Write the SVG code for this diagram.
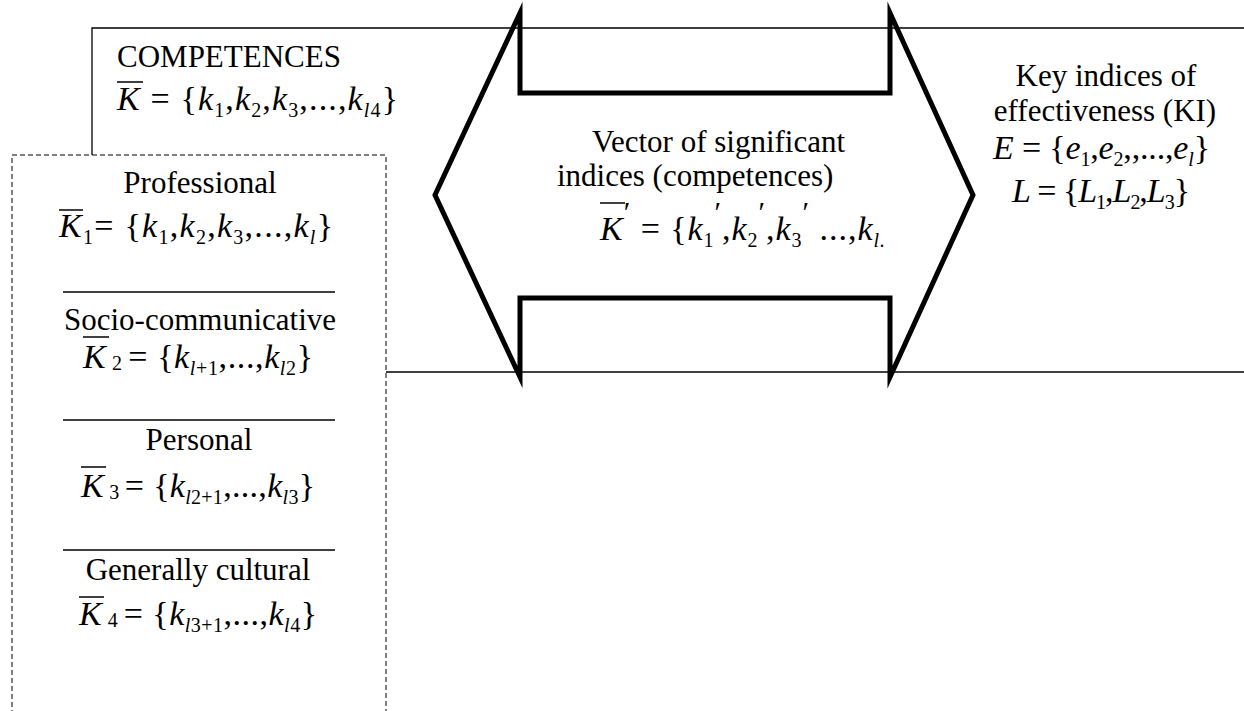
<svg xmlns="http://www.w3.org/2000/svg" width="1244" height="711" viewBox="0 0 1244 711">
<style>
.lbl{font-family:"Liberation Serif","Times New Roman",serif;font-size:31px;fill:#000}
.m{font-family:"Liberation Serif","Times New Roman",serif;font-size:34px;fill:#000}
.i{font-style:italic}
.s{font-size:20px}
.p{font-size:30px}
.frame{stroke:#000;stroke-width:1.3;fill:none}
.sep{stroke:#000;stroke-width:1.3}
.ov{stroke:#000;stroke-width:1.5}
.dash{stroke:#000;stroke-width:1;stroke-dasharray:5 3;fill:none}
.arrow{stroke:#000;stroke-width:5;fill:none;stroke-linejoin:miter;stroke-miterlimit:10}
.c{text-anchor:middle}
</style>
<rect width="1244" height="711" fill="#fff"/>
<g id="frame">
<path class="frame" d="M92,155 V28 H1244"/>
<path class="frame" d="M386,372 H1244"/>
</g>
<g id="connectors">
<path class="arrow" d="M520,13 L520,93 L890,93 L890,13 L973,195 L890,377 L890,298 L520,298 L520,377 L435,195 Z"/>
</g>
<g id="competences">
<text class="lbl" x="117" y="67">COMPETENCES</text>
<line class="ov" x1="117" y1="82" x2="143" y2="82"/>
<text class="m" x="117" y="110" textLength="281" lengthAdjust="spacing"><tspan class="i">K</tspan> = {<tspan class="i">k</tspan><tspan class="s" dy="7">1</tspan><tspan dy="-7">,</tspan><tspan class="i">k</tspan><tspan class="s" dy="7">2</tspan><tspan dy="-7">,</tspan><tspan class="i">k</tspan><tspan class="s" dy="7">3</tspan><tspan dy="-7">,...,</tspan><tspan class="i">k</tspan><tspan class="s i" dy="7">l</tspan><tspan class="s">4</tspan><tspan dy="-7">}</tspan></text>
</g>
<g id="competence-groups">
<path class="dash" d="M12,715 V155 H386 V715"/>
<text class="lbl c" x="200" y="193">Professional</text>
<line class="ov" x1="59" y1="210" x2="83" y2="210"/>
<text class="m" x="59" y="237" textLength="274" lengthAdjust="spacing"><tspan class="i">K</tspan><tspan class="s" dy="7">1</tspan><tspan dy="-7">= {</tspan><tspan class="i">k</tspan><tspan class="s" dy="7">1</tspan><tspan dy="-7">,</tspan><tspan class="i">k</tspan><tspan class="s" dy="7">2</tspan><tspan dy="-7">,</tspan><tspan class="i">k</tspan><tspan class="s" dy="7">3</tspan><tspan dy="-7">,...,</tspan><tspan class="i">k</tspan><tspan class="s i" dy="7">l</tspan><tspan dy="-7">}</tspan></text>
<line class="sep" x1="63" y1="292" x2="335" y2="292"/>
<text class="lbl c" x="200" y="330">Socio-communicative</text>
<line class="ov" x1="83" y1="337" x2="109" y2="337"/>
<text class="m" x="83" y="368" textLength="230" lengthAdjust="spacing"><tspan class="i">K</tspan><tspan class="s" dy="2"> 2 </tspan><tspan dy="-2">= {</tspan><tspan class="i">k</tspan><tspan class="s" dy="7"><tspan class="i">l</tspan>+1</tspan><tspan dy="-7">,...,</tspan><tspan class="i">k</tspan><tspan class="s" dy="7"><tspan class="i">l</tspan>2</tspan><tspan dy="-7">}</tspan></text>
<line class="sep" x1="63" y1="420" x2="335" y2="420"/>
<text class="lbl c" x="199" y="450">Personal</text>
<line class="ov" x1="81" y1="467" x2="106" y2="467"/>
<text class="m" x="81" y="497" textLength="234" lengthAdjust="spacing"><tspan class="i">K</tspan><tspan class="s" dy="2"> 3 </tspan><tspan dy="-2">= {</tspan><tspan class="i">k</tspan><tspan class="s" dy="7"><tspan class="i">l</tspan>2+1</tspan><tspan dy="-7">,...,</tspan><tspan class="i">k</tspan><tspan class="s" dy="7"><tspan class="i">l</tspan>3</tspan><tspan dy="-7">}</tspan></text>
<line class="sep" x1="63" y1="550" x2="335" y2="550"/>
<text class="lbl c" x="198" y="580">Generally cultural</text>
<line class="ov" x1="79" y1="597" x2="104" y2="597"/>
<text class="m" x="79" y="625" textLength="238" lengthAdjust="spacing"><tspan class="i">K</tspan><tspan class="s" dy="2"> 4 </tspan><tspan dy="-2">= {</tspan><tspan class="i">k</tspan><tspan class="s" dy="7"><tspan class="i">l</tspan>3+1</tspan><tspan dy="-7">,...,</tspan><tspan class="i">k</tspan><tspan class="s" dy="7"><tspan class="i">l</tspan>4</tspan><tspan dy="-7">}</tspan></text>
</g>
<g id="vector">
<text class="lbl" x="592" y="152">Vector of significant</text>
<text class="lbl" x="557" y="186">indices (competences)</text>
<line class="ov" x1="600" y1="203" x2="625" y2="203"/>
<text class="m" x="600" y="240" textLength="285" lengthAdjust="spacing"><tspan class="i">K</tspan><tspan class="p" dy="-18">′</tspan><tspan dy="18"> = {</tspan><tspan class="i">k</tspan><tspan class="s" dy="7">1</tspan><tspan class="p" dy="-25">′</tspan><tspan dy="18">,</tspan><tspan class="i">k</tspan><tspan class="s" dy="7">2</tspan><tspan class="p" dy="-25">′</tspan><tspan dy="18">,</tspan><tspan class="i">k</tspan><tspan class="s" dy="7">3</tspan><tspan class="p" dy="-25">′</tspan><tspan dy="18"> ...,</tspan><tspan class="i">k</tspan><tspan class="s i" dy="7">l.</tspan></text>
</g>
<g id="key-indices">
<text class="lbl c" x="1106" y="86">Key indices of</text>
<text class="lbl c" x="1105" y="121">effectiveness (KI)</text>
<text class="m" x="993" y="159" textLength="217" lengthAdjust="spacing"><tspan class="i">E</tspan> = {<tspan class="i">e</tspan><tspan class="s" dy="7">1</tspan><tspan dy="-7">,</tspan><tspan class="i">e</tspan><tspan class="s" dy="7">2</tspan><tspan dy="-7">,,...,</tspan><tspan class="i">e</tspan><tspan class="s i" dy="7">l</tspan><tspan dy="-7">}</tspan></text>
<text class="m" x="1012" y="202" textLength="178" lengthAdjust="spacing"><tspan class="i">L</tspan> = {<tspan class="i">L</tspan><tspan class="s" dy="7">1</tspan><tspan dy="-7">,</tspan><tspan class="i">L</tspan><tspan class="s" dy="7">2</tspan><tspan dy="-7">,</tspan><tspan class="i">L</tspan><tspan class="s" dy="7">3</tspan><tspan dy="-7">}</tspan></text>
</g>
</svg>
